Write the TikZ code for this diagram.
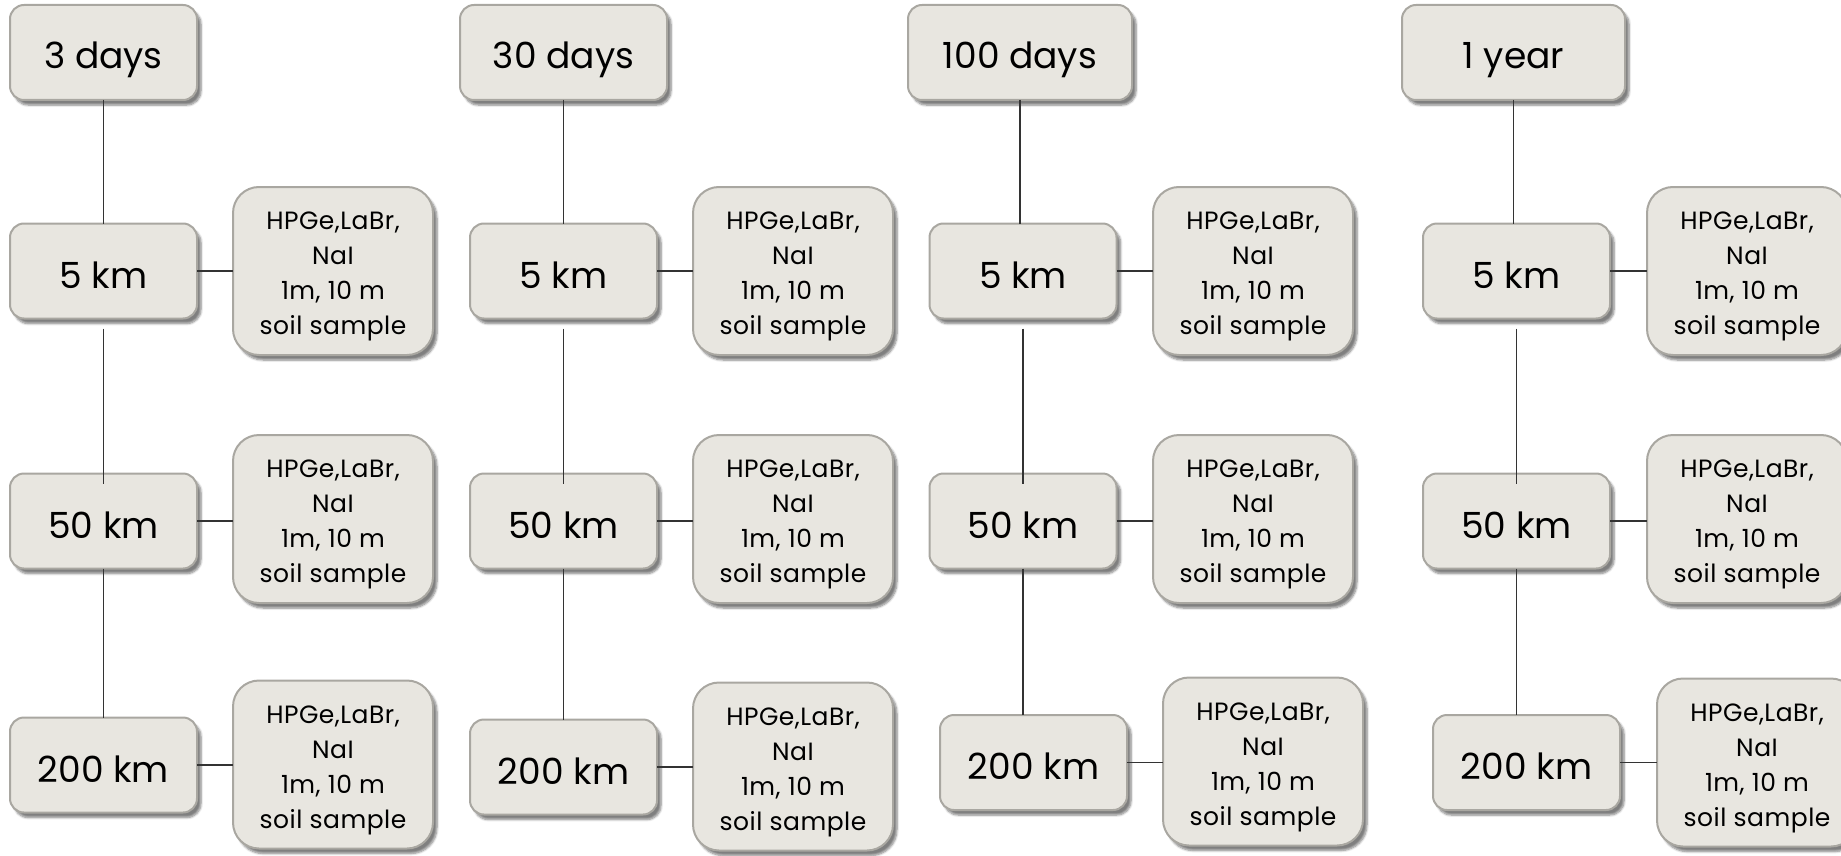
\documentclass[tikz,border=0pt]{standalone}
\usepackage{fontspec}
\setmainfont{Poppins}
\newfontfamily\infofont{Poppins}[LetterSpace=2]
\usetikzlibrary{shadows.blur}
\definecolor{boxfill}{HTML}{E8E6E0}
\definecolor{boxborder}{HTML}{A9A7A1}
\definecolor{linecol}{HTML}{333333}
\tikzset{
  base/.style={draw=boxborder, line width=2pt, fill=boxfill, rounded corners=14pt,
    inner sep=0pt, outer sep=0pt, align=center, text=black,
    blur shadow={shadow xshift=4pt, shadow yshift=-5pt, shadow blur steps=6, shadow opacity=50}},
  period/.style={base, minimum height=95pt, text height=32pt, text depth=0pt,
    font=\fontsize{36}{44}\selectfont},
  dist/.style={base, minimum width=187pt, minimum height=95pt, text height=34pt, text depth=0pt,
    font=\fontsize{36}{44}\selectfont},
  info/.style={base, minimum width=200pt, minimum height=168pt, rounded corners=26pt,
    font=\infofont\fontsize{25}{35}\selectfont},
  link/.style={draw=linecol, line width=1.5pt}
}
\newcommand{\infotext}{\rule{0pt}{29pt}HPGe,LaBr,\\NaI\\1m, 10 m\\soil sample}
\begin{document}
\begin{tikzpicture}[x=1pt,y=-1pt]
\useasboundingbox (0,0) rectangle (1841,856);
\clip (0,0) rectangle (1841,856);
% column 1
\node[period, minimum width=187pt] (p1) at (103.5,52.5) {3 days};
\node[dist] (a1) at (103.5,271) {5 km};
\node[dist] (b1) at (103.5,521) {50 km};
\node[dist] (c1) at (103.5,765) {200 km};
\node[info] (ia1) at (333,271) {\infotext};
\node[info] (ib1) at (333,519) {\infotext};
\node[info] (ic1) at (333,764.5) {\infotext};
% column 2
\node[period, minimum width=207pt] (p2) at (563.5,52.5) {30 days};
\node[dist] (a2) at (563.5,271) {5 km};
\node[dist] (b2) at (563.5,521) {50 km};
\node[dist] (c2) at (563.5,767) {200 km};
\node[info] (ia2) at (793,271) {\infotext};
\node[info] (ib2) at (793,519) {\infotext};
\node[info] (ic2) at (793,766.5) {\infotext};
% column 3
\node[period, minimum width=224pt] (p3) at (1020,52.5) {100 days};
\node[dist] (a3) at (1023,271) {5 km};
\node[dist] (b3) at (1023,521) {50 km};
\node[dist] (c3) at (1033.5,762.5) {200 km};
\node[info] (ia3) at (1253,271) {\infotext};
\node[info] (ib3) at (1253,519) {\infotext};
\node[info] (ic3) at (1263,761.5) {\infotext};
% column 4
\node[period, minimum width=223pt] (p4) at (1513.5,52.5) {1 year};
\node[dist] (a4) at (1516.5,271) {5 km};
\node[dist] (b4) at (1516.5,521) {50 km};
\node[dist] (c4) at (1526.5,762.5) {200 km};
\node[info] (ia4) at (1747,271) {\infotext};
\node[info] (ib4) at (1747,519) {\infotext};
\node[info] (ic4) at (1757,762.5) {\infotext};
% connectors
\foreach \i in {1,2,3,4}{
  \draw[link] (p\i.south) -- (p\i.south |- a\i.north);
  \draw[link] ([yshift=-10pt]a\i.south) -- ([yshift=-10pt]a\i.south |- b\i.north);
  \draw[link] (b\i.south) -- (b\i.south |- c\i.north);
  \draw[link] (a\i.east) -- (ia\i.west |- a\i.east);
  \draw[link] (b\i.east) -- (ib\i.west |- b\i.east);
  \draw[link] (c\i.east) -- (ic\i.west |- c\i.east);
}
\end{tikzpicture}
\end{document}
